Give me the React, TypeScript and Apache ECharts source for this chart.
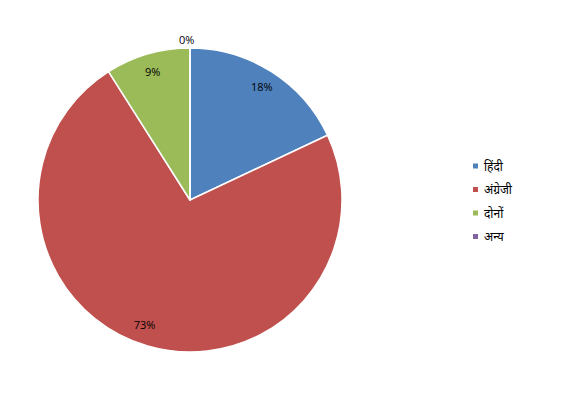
import React, { useEffect, useRef } from "react";
import * as echarts from "echarts";

const categories = ["हिंदी", "अंग्रेजी", "दोनों", "अन्य"];
const values = [18, 73, 9, 0];
const colors = ["#4F81BD", "#C0504D", "#9BBB59", "#8064A2"];

export default function App() {
  const ref = useRef<HTMLDivElement>(null);
  useEffect(() => {
    if (!ref.current) return;
    const chart = echarts.init(ref.current, null, { renderer: "svg" });
    const font = "'Open Sans', 'Noto Sans', sans-serif";
    const mainData = categories.map((name, i) => ({
      name,
      value: values[i],
      itemStyle: { color: colors[i] },
      label:
        values[i] === 0
          ? { show: true, position: "outside", formatter: "{d}%" }
          : { show: false },
      labelLine: { show: false, length: 4, length2: 0 },
    }));
    const overlayData = categories.map((name, i) => ({
      name,
      value: values[i],
      label: { show: values[i] !== 0 },
    }));
    chart.setOption({
      animation: false,
      backgroundColor: "#ffffff",
      legend: {
        orient: "vertical",
        left: 466,
        top: 155,
        itemWidth: 7,
        itemHeight: 7,
        itemGap: 11.5,
        icon: "rect",
        data: categories,
        textStyle: { fontSize: 12, color: "#000", fontFamily: font },
        selectedMode: false,
      },
      series: [
        {
          type: "pie",
          center: [190, 200],
          radius: [0, 152],
          startAngle: 90,
          clockwise: true,
          data: mainData,
          itemStyle: { borderColor: "#ffffff", borderWidth: 1.5 },
          label: { fontSize: 11, color: "#000", fontFamily: font },
          labelLayout: (params: any) =>
            params.dataIndex === 3 ? { dx: -16, dy: -5 } : {},
          emphasis: { disabled: true },
        },
        {
          type: "pie",
          center: [190, 200],
          radius: [110, 152],
          startAngle: 90,
          clockwise: true,
          silent: true,
          legendHoverLink: false,
          data: overlayData,
          itemStyle: { color: "rgba(0,0,0,0)", borderWidth: 0 },
          label: {
            position: "inside",
            formatter: "{d}%",
            fontSize: 11,
            color: "#000",
            fontFamily: font,
          },
          labelLayout: (params: any) =>
            params.dataIndex === 1 ? { dx: -8, dy: -4 } : {},
          labelLine: { show: false },
          emphasis: { disabled: true },
        },
      ],
    });
    return () => chart.dispose();
  }, []);
  return (
    <div
      ref={ref}
      style={{ position: "fixed", left: 0, top: 0, width: 583, height: 397 }}
    />
  );
}
